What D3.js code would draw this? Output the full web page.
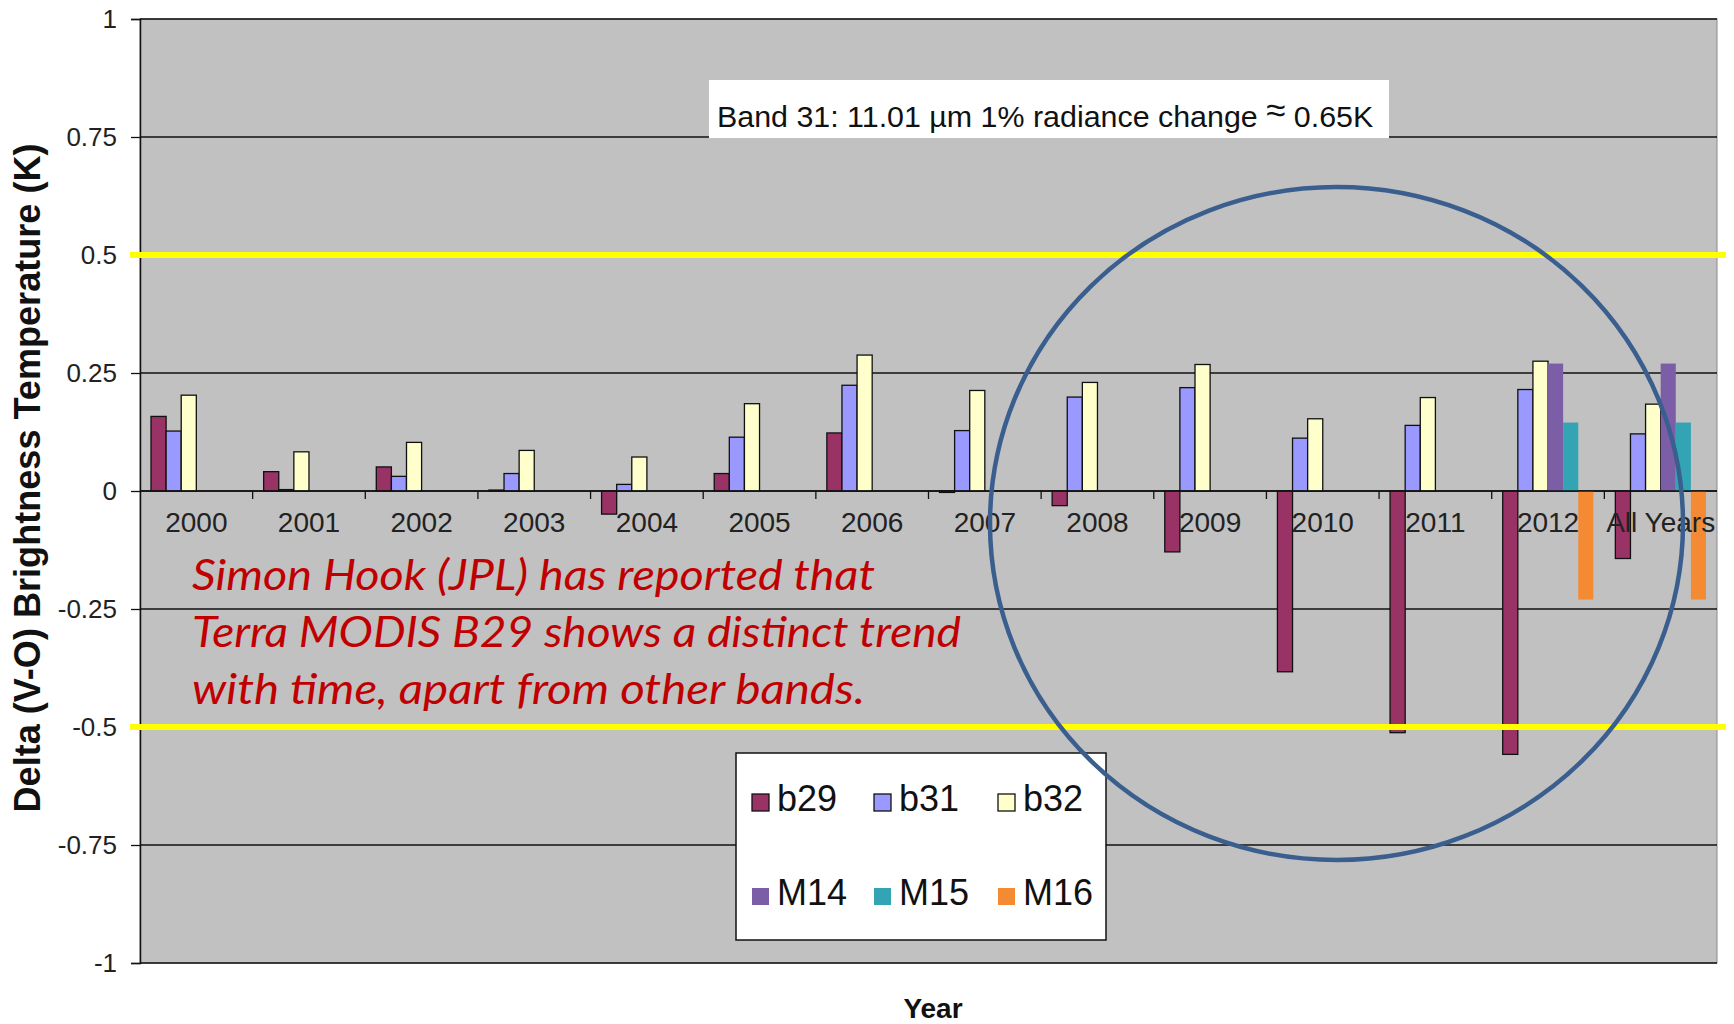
<!DOCTYPE html>
<html>
<head>
<meta charset="utf-8">
<script src="https://cdn.jsdelivr.net/npm/d3@7"></script>
<style>
  html, body { margin: 0; padding: 0; background: #ffffff; }
  svg { display: block; }
</style>
</head>
<body>
<svg id="chart" width="1734" height="1024"></svg>
<script>
// Yearly mean V-O brightness temperature differences (K), per band
const categories = ["2000", "2001", "2002", "2003", "2004", "2005", "2006",
                    "2007", "2008", "2009", "2010", "2011", "2012", "All Years"];
const seriesNames = ["b29", "b31", "b32", "M14", "M15", "M16"];

const b29 = [0.158, 0.041, 0.051, 0.002, -0.049, 0.037, 0.123, -0.003, -0.031, -0.129, -0.383, -0.512, -0.558, -0.143];
const b31 = [0.127, 0.003, 0.031, 0.037, 0.014, 0.114, 0.224, 0.128, 0.199, 0.219, 0.112, 0.139, 0.215, 0.121];
const b32 = [0.203, 0.083, 0.103, 0.086, 0.072, 0.185, 0.288, 0.213, 0.230, 0.268, 0.153, 0.198, 0.275, 0.184];
const M14 = [null, null, null, null, null, null, null, null, null, null, null, null, 0.270, 0.270];
const M15 = [null, null, null, null, null, null, null, null, null, null, null, null, 0.145, 0.145];
const M16 = [null, null, null, null, null, null, null, null, null, null, null, null, -0.230, -0.230];

const yTicks = [1, 0.75, 0.5, 0.25, 0, -0.25, -0.5, -0.75, -1];
const yTickLabels = ["1", "0.75", "0.5", "0.25", "0", "-0.25", "-0.5", "-0.75", "-1"];
const thresholds = [0.5, -0.5];

const bandNote = ["Band 31: 11.01 µm 1% radiance change ", "≈", " 0.65K"];
const remarkLines = [
  "Simon Hook (JPL) has reported that",
  "Terra MODIS B29 shows a distinct trend",
  "with time, apart from other bands."
];
const legendRows = [["b29", "b31", "b32"], ["M14", "M15", "M16"]];

// ---- styling ----
const colors = { b29: "#993366", b31: "#9999ff", b32: "#ffffcc", M14: "#7c5ea6", M15: "#33a4b4", M16: "#f58a35" };
const outlined = { b29: true, b31: true, b32: true, M14: false, M15: false, M16: false };
const valuesBySeries = { b29, b31, b32, M14, M15, M16 };
const sans = "'Liberation Sans', Arial, sans-serif";

const svg = d3.select("#chart");
const plot = { left: 140, right: 1717, top: 19, bottom: 963 };

const x0 = d3.scaleBand().domain(categories).range([plot.left, plot.right]).paddingInner(0).paddingOuter(0);
const x1 = d3.scaleBand().domain(seriesNames).range([11, x0.bandwidth() - 11]);
const y = d3.scaleLinear().domain([-1, 1]).range([plot.bottom, plot.top]);

// plot area
svg.append("rect")
  .attr("x", plot.left).attr("y", plot.top)
  .attr("width", plot.right - plot.left).attr("height", plot.bottom - plot.top)
  .attr("fill", "#c1c1c1").attr("stroke", "#8a8a8a").attr("stroke-width", 1);

// horizontal gridlines
svg.append("g").selectAll("line").data(yTicks).join("line")
  .attr("x1", plot.left).attr("x2", plot.right)
  .attr("y1", d => y(d)).attr("y2", d => y(d))
  .attr("stroke", "#111").attr("stroke-width", 1.3);

// y axis
const yAxis = d3.axisLeft(y).tickValues(yTicks).tickSize(9).tickPadding(14)
  .tickFormat((d, i) => yTickLabels[i]);
const gy = svg.append("g").attr("transform", `translate(${plot.left},0)`).call(yAxis);
gy.select(".domain").attr("stroke", "#111").attr("stroke-width", 1.5);
gy.selectAll(".tick line").attr("stroke", "#111").attr("stroke-width", 1.3);
gy.selectAll(".tick text").attr("font-family", sans).attr("font-size", 26).attr("fill", "#222");

// bars
const barData = [];
seriesNames.forEach(s => {
  valuesBySeries[s].forEach((v, i) => {
    if (v !== null) barData.push({ s, cat: categories[i], v });
  });
});
svg.append("g").selectAll("rect").data(barData).join("rect")
  .attr("x", d => x0(d.cat) + x1(d.s))
  .attr("y", d => y(Math.max(0, d.v)))
  .attr("width", x1.bandwidth())
  .attr("height", d => Math.abs(y(d.v) - y(0)))
  .attr("fill", d => colors[d.s])
  .attr("stroke", d => outlined[d.s] ? "#111" : "none")
  .attr("stroke-width", 1.3);

// category axis along zero
const gx = svg.append("g").attr("transform", `translate(0,${y(0)})`);
gx.append("line").attr("x1", plot.left).attr("x2", plot.right)
  .attr("stroke", "#111").attr("stroke-width", 1.6);
gx.selectAll("line.tick").data(categories.slice(1)).join("line").attr("class", "tick")
  .attr("x1", d => x0(d)).attr("x2", d => x0(d)).attr("y1", 0).attr("y2", 8)
  .attr("stroke", "#111").attr("stroke-width", 1.3);
gx.selectAll("text").data(categories).join("text")
  .attr("x", d => x0(d) + x0.bandwidth() / 2).attr("y", 41)
  .attr("text-anchor", "middle")
  .attr("font-family", sans).attr("font-size", 28).attr("fill", "#222")
  .text(d => d);

// axis titles
svg.append("text")
  .attr("transform", "translate(40,478) rotate(-90)")
  .attr("text-anchor", "middle")
  .attr("font-family", sans).attr("font-weight", "bold").attr("font-size", 36).attr("fill", "#111")
  .attr("textLength", 669).attr("lengthAdjust", "spacingAndGlyphs")
  .text("Delta (V-O) Brightness Temperature (K)");
svg.append("text")
  .attr("x", 933).attr("y", 1018).attr("text-anchor", "middle")
  .attr("font-family", sans).attr("font-weight", "bold").attr("font-size", 28).attr("fill", "#111")
  .text("Year");

// band 31 note
svg.append("rect").attr("x", 709).attr("y", 80).attr("width", 680).attr("height", 58).attr("fill", "#fff");
const note = svg.append("text").attr("x", 717).attr("y", 127)
  .attr("font-family", sans).attr("font-size", 30.4).attr("fill", "#111");
note.append("tspan").text(bandNote[0]);
note.append("tspan").attr("dy", -5).attr("font-size", 35).text(bandNote[1]);
note.append("tspan").attr("dy", 5).text(bandNote[2]);

// remark in red
const remarkWidths = [683, 769, 673];
svg.append("g").selectAll("text").data(remarkLines).join("text")
  .attr("x", 192).attr("y", (d, i) => 590 + i * 57)
  .attr("font-family", "Lato, 'Open Sans', sans-serif").attr("font-style", "italic")
  .attr("font-size", 42).attr("fill", "#c00000")
  .attr("textLength", (d, i) => remarkWidths[i]).attr("lengthAdjust", "spacingAndGlyphs")
  .text(d => d);

// +/-0.5 K threshold lines
svg.append("g").selectAll("line").data(thresholds).join("line")
  .attr("x1", 130).attr("x2", 1726)
  .attr("y1", d => y(d)).attr("y2", d => y(d))
  .attr("stroke", "#ffff00").attr("stroke-width", 6);

// legend
const lg = svg.append("g");
lg.append("rect").attr("x", 736).attr("y", 753).attr("width", 370).attr("height", 187)
  .attr("fill", "#fff").attr("stroke", "#111").attr("stroke-width", 1.5);
const colX = [752, 874, 998];
const rowY = [811, 905];
legendRows.forEach((row, r) => {
  row.forEach((s, c) => {
    lg.append("rect").attr("x", colX[c]).attr("y", rowY[r] - 17).attr("width", 17).attr("height", 17)
      .attr("fill", colors[s]).attr("stroke", outlined[s] ? "#111" : "none").attr("stroke-width", 1.3);
    lg.append("text").attr("x", colX[c] + 25).attr("y", rowY[r])
      .attr("font-family", sans).attr("font-size", 36).attr("fill", "#111").text(s);
  });
});

// highlight ellipse around recent years
svg.append("ellipse")
  .attr("cx", 1336.5).attr("cy", 523.5).attr("rx", 346.5).attr("ry", 336.5)
  .attr("fill", "none").attr("stroke", "#3a5f8f").attr("stroke-width", 4.5);
</script>
</body>
</html>
